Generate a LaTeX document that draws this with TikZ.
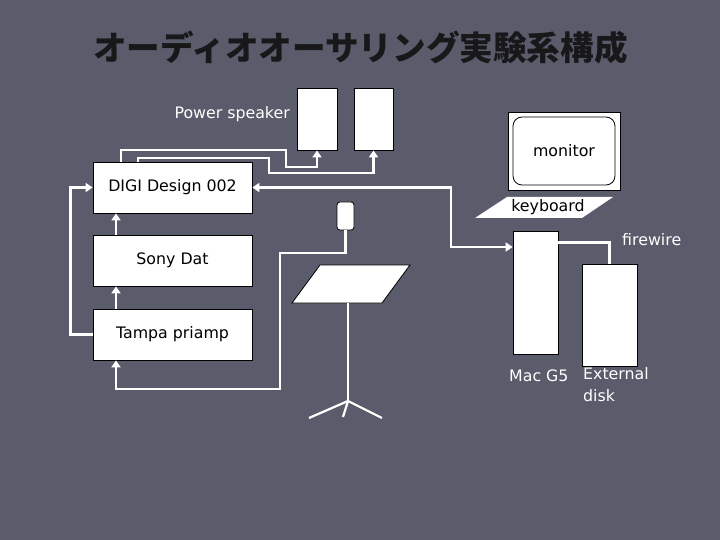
\documentclass[tikz,border=0pt]{standalone}
\usepackage{fontspec}
\setmainfont{DejaVu Sans}
\newfontfamily\jpfont{Noto Sans CJK JP}
\usetikzlibrary{arrows.meta}
\definecolor{slate}{RGB}{91,92,107}
\definecolor{titleink}{RGB}{24,24,26}
\begin{document}
\begin{tikzpicture}[x=1pt,y=-1pt,
		box/.style={draw=black,fill=white,line width=0.8pt,minimum width=159pt,minimum height=51pt,inner sep=0pt,font=\fontsize{15.8}{18}\selectfont},
		unit/.style={draw=black,fill=white,line width=0.8pt,inner sep=0pt},
		lbl/.style={text=white,inner sep=0pt,font=\fontsize{15.8}{18}\selectfont},
		wire/.style={white,line width=2.6pt},
		tip/.style={-{Triangle[length=7pt,width=9pt]}}]
		\useasboundingbox (0,0) rectangle (720,540);
		\fill [slate] (0,0) rectangle (720,540);
		\node (title) [text=titleink,font=\jpfont\bfseries\fontsize{33.6}{36}\selectfont] at (360.5,47.5) {オーディオオーサリング実験系構成};
		\node (spk1) [unit,minimum width=40pt,minimum height=62pt] at (317,119) {};
		\node (spk2) [unit,minimum width=39pt,minimum height=62pt] at (373.5,119) {};
		\node (spklbl) [lbl,anchor=east] at (290,114) {Power speaker};
		\node (digi) [box] at (172.5,187.5) {DIGI Design 002};
		\node (sony) [box] at (172.5,260.5) {Sony Dat};
		\node (tampa) [box] at (172.5,334.5) {Tampa priamp};
		\node (mic) [unit,rounded corners=3pt,minimum width=17pt,minimum height=28pt] at (345.5,216) {};
		\node (monitor) [unit,minimum width=112pt,minimum height=78pt] at (564,151) {};
		\node (screen) [unit,rounded corners=9pt,minimum width=102pt,minimum height=68pt,font=\fontsize{15.8}{18}\selectfont] at (564,151) {monitor};
		\fill [white] (475,218) -- (507,197) -- (613,197) -- (582,218) -- cycle;
		\node (keyboard) [inner sep=0pt,font=\fontsize{15.8}{18}\selectfont] at (548,207) {keyboard};
		\node (mac) [unit,minimum width=45pt,minimum height=123pt] at (535.5,292.5) {};
		\node (disk) [unit,minimum width=55pt,minimum height=102pt] at (609.5,315) {};
		\node (fwlbl) [lbl,anchor=west] at (622,240) {firewire};
		\node (maclbl) [lbl,anchor=west] at (509,376) {Mac G5};
		\node (disklbl) [lbl,anchor=north west,align=left,font=\fontsize{15.8}{22}\selectfont] at (583,367) {External\\disk};
		\coordinate (bend) at (451,247);
		\coordinate (drop) at (280,389);
		% speaker lines
		\draw [wire,tip] ([xshift=-51.5pt]digi.north) |- (286,150) -- (286,167) -| (spk1.south);
		\draw [wire,tip] ([xshift=-34.5pt]digi.north) |- (269,158) -- (269,173) -| (spk2.south);
		% signal chain
		\draw [wire,tip] ([xshift=-56.5pt]tampa.north) -- ([xshift=-56.5pt]sony.south);
		\draw [wire,tip] ([xshift=-56.5pt]sony.north) -- ([xshift=-56.5pt]digi.south);
		\draw [wire,tip] (tampa.west) -- ++(-22,0) |- (digi.west);
		\draw [wire,tip] (mic.south) |- (drop |- 0,253) -- (drop) -| ([xshift=-56.5pt]tampa.south);
		\draw [wire,{Triangle[length=7pt,width=9pt]}-{Triangle[length=7pt,width=9pt]}] (digi.east) -| (bend) -- (mac.west |- bend);
		\draw [wire] ([yshift=-12pt]mac.north east) -| (disk.north);
		% music stand
		\draw [black,fill=white,line width=0.8pt] (320,265) -- (410,265) -- (382,303) -- (292,303) -- cycle;
		\draw [wire,line width=2.2pt] (348,303) -- (348,401);
		\draw [wire,line width=2.2pt] (309,418) -- (348,401) -- (382,418);
		\draw [wire,line width=2.2pt] (348,401) -- (343,417);
\end{tikzpicture}
\end{document}
